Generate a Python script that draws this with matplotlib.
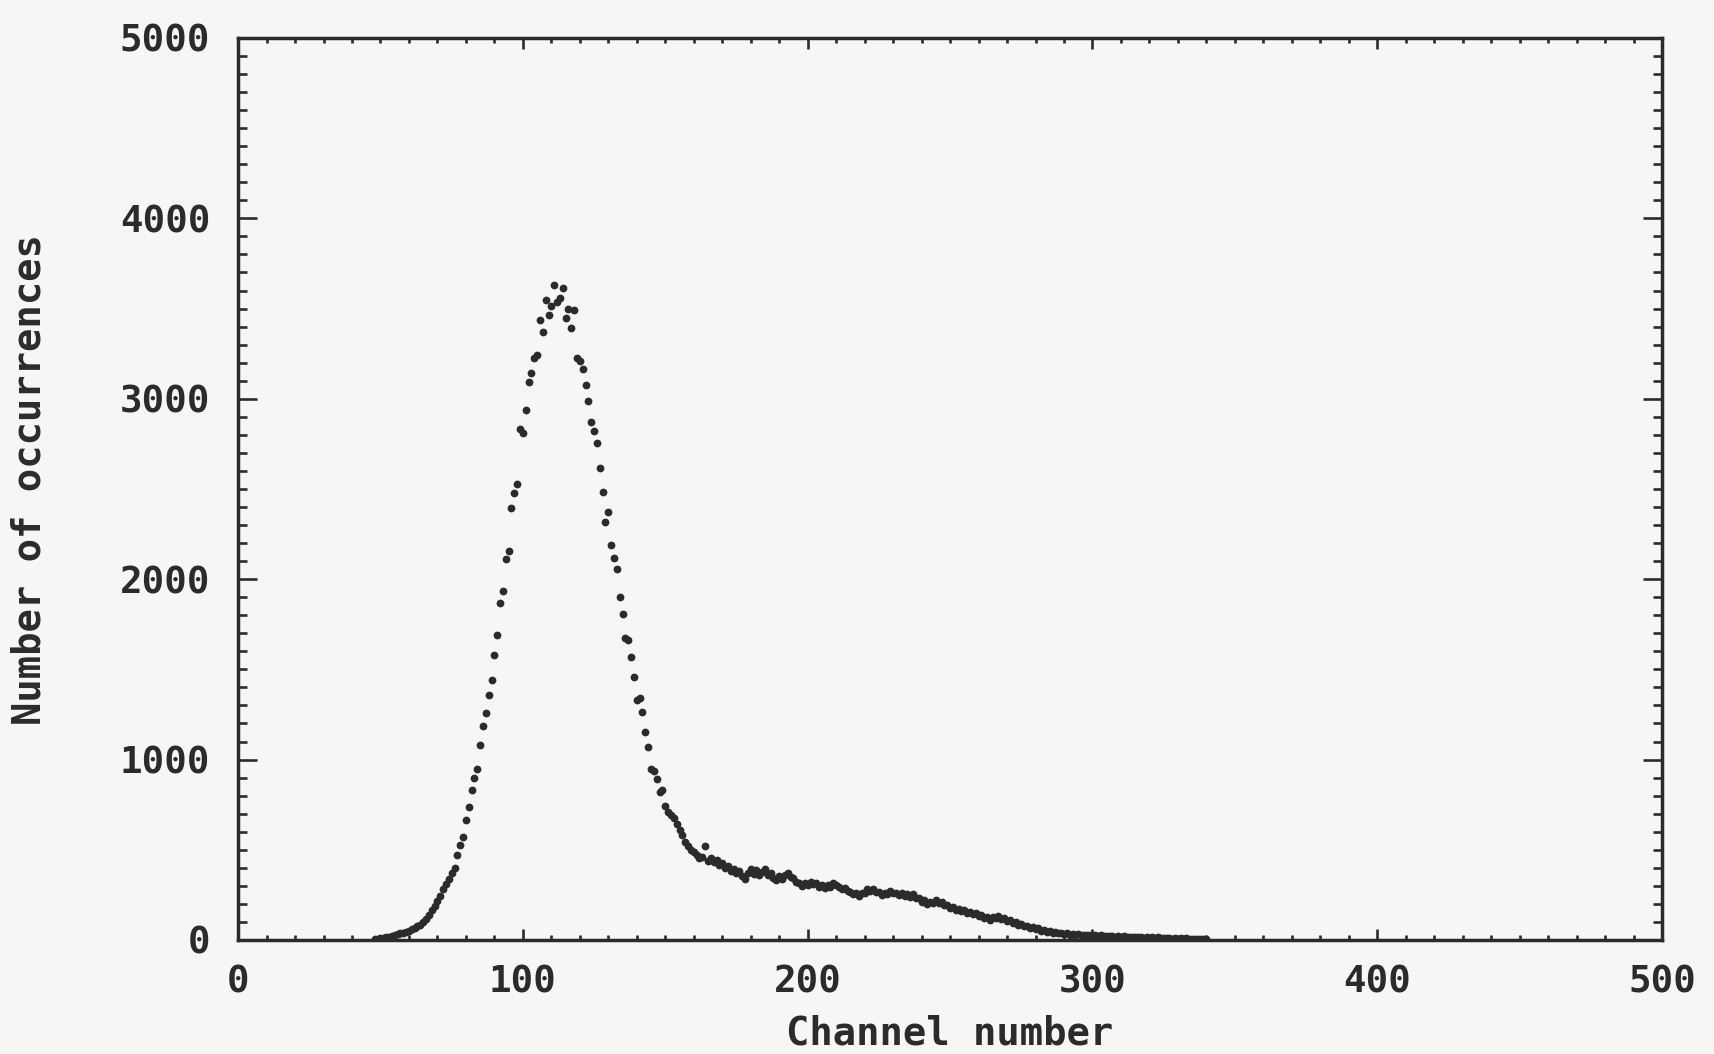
import numpy as np
import matplotlib
matplotlib.use('Agg')
import matplotlib.pyplot as plt
from matplotlib.ticker import MultipleLocator

# channels 48..340, one count per channel
first_channel = 48
counts = [
    5, 8, 10, 12, 15, 18, 22, 28,                                   # 48-55
    32, 36, 40, 45, 50, 58, 66, 75, 85, 100,                        # 56-65
    118, 140, 165, 188, 215, 245, 285, 310, 340, 370,               # 66-75
    400, 470, 525, 570, 665, 735, 830, 900, 945, 1080,              # 76-85
    1185, 1260, 1360, 1440, 1580, 1690, 1870, 1935, 2110, 2155,     # 86-95
    2395, 2475, 2530, 2830, 2810, 2940, 3095, 3145, 3225, 3245,     # 96-105
    3435, 3370, 3550, 3465, 3515, 3630, 3535, 3560, 3615, 3450,     # 106-115
    3500, 3390, 3490, 3225, 3210, 3165, 3075, 2985, 2870, 2820,     # 116-125
    2755, 2615, 2485, 2315, 2370, 2190, 2120, 2055, 1900, 1805,     # 126-135
    1675, 1665, 1570, 1455, 1330, 1340, 1265, 1155, 1070, 950,      # 136-145
    935, 890, 820, 830, 740, 710, 690, 675, 645, 610,               # 146-155
    580, 545, 520, 500, 490, 470, 455, 462, 520, 440,               # 156-165
    452, 430, 445, 418, 425, 398, 410, 385, 395, 372,               # 166-175
    380, 352, 338, 372, 395, 365, 388, 358, 378, 392,               # 176-185
    362, 372, 345, 335, 352, 338, 360, 372, 350, 342,               # 186-195
    322, 318, 298, 318, 305, 322, 308, 318, 296, 305,               # 196-205
    290, 302, 292, 315, 305, 296, 282, 288, 270, 268,               # 206-215
    252, 262, 245, 258, 262, 280, 272, 282, 264, 268,               # 216-225
    248, 262, 255, 270, 258, 262, 250, 262, 246, 255,               # 226-235
    240, 252, 235, 232, 212, 222, 198, 210, 206, 220,               # 236-245
    205, 212, 192, 195, 178, 182, 168, 172, 158, 165,               # 246-255
    150, 156, 142, 148, 135, 140, 122, 130, 112, 128,               # 256-265
    122, 132, 115, 120, 104, 108, 94, 98, 84, 88,                   # 266-275
    78, 80, 68, 72, 60, 64, 52, 56, 46, 50,                         # 276-285
    40, 44, 36, 40, 32, 36, 30, 33, 28, 32,                         # 286-295
    26, 30, 25, 28, 24, 27, 22, 25, 21, 24,                         # 296-305
    20, 22, 18, 21, 17, 20, 16, 19, 15, 18,                         # 306-315
    14, 17, 13, 16, 12, 15, 11, 14, 10, 13,                         # 316-325
    9, 12, 8, 11, 8, 10, 7, 9, 6, 8,                                # 326-335
    5, 7, 4, 6, 3,                                                  # 336-340
]
channels = np.arange(first_channel, first_channel + len(counts))

x_ticks = [0, 100, 200, 300, 400, 500]
y_ticks = [0, 1000, 2000, 3000, 4000, 5000]

ink = '#2b2b2b'
paper = '#f6f6f4'

plt.rcParams['font.family'] = ['DejaVu Sans Mono', 'DejaVu Sans']

fig = plt.figure(figsize=(17.14, 10.54), dpi=100, facecolor=paper)
ax = fig.add_axes([0.1389, 0.1082, 0.8308, 0.8558], facecolor=paper)

ax.plot(channels, counts, linestyle='none', marker='o', markersize=5.6,
        color=ink, markeredgewidth=0)

ax.set_xlim(0, 500)
ax.set_ylim(0, 5000)
ax.set_xticks(x_ticks)
ax.set_yticks(y_ticks)
ax.xaxis.set_minor_locator(MultipleLocator(10))
ax.yaxis.set_minor_locator(MultipleLocator(100))

for s in ax.spines.values():
    s.set_linewidth(2.5)
    s.set_color(ink)

ax.tick_params(axis='both', which='both', direction='in', top=True, right=True,
               color=ink, width=1.9, labelcolor=ink, labelsize=27)
ax.tick_params(axis='x', which='major', length=8, pad=18)
ax.tick_params(axis='x', which='minor', length=3.8)
ax.tick_params(axis='y', which='major', length=13.5, pad=20)
ax.tick_params(axis='y', which='minor', length=6.5)
for lab in ax.get_xticklabels() + ax.get_yticklabels():
    lab.set_fontweight('bold')

ax.set_xlabel('Channel number', fontsize=28, color=ink, fontweight='bold')
ax.set_ylabel('Number of occurrences', fontsize=28, color=ink, fontweight='bold')
ax.xaxis.set_label_coords(0.5, -0.083)
ax.yaxis.set_label_coords(-0.133, 0.51)

fig.savefig('out.png', dpi=100, facecolor=paper)
